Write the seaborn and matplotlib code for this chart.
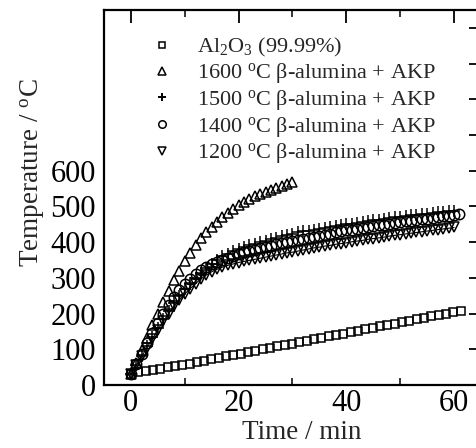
import matplotlib
matplotlib.use("Agg")
import matplotlib.pyplot as plt
import seaborn as sns
import numpy as np
import pandas as pd
from matplotlib.ticker import MultipleLocator, FixedLocator, FuncFormatter
from matplotlib.lines import Line2D

# ---------------- data ----------------
t_al2o3 = [0, 1.36, 2.72, 4.08, 5.44, 6.8, 8.16, 9.52, 10.88, 12.24, 13.6, 14.96, 16.32,
           17.68, 19.04, 20.4, 21.76, 23.12, 24.48, 25.84, 27.2, 28.56, 29.92, 31.28,
           32.64, 34.0, 35.36, 36.72, 38.08, 39.44, 40.8, 42.16, 43.52, 44.88, 46.24,
           47.6, 48.96, 50.32, 51.68, 53.04, 54.4, 55.76, 57.12, 58.48, 59.84, 61.2]
T_al2o3 = [30, 36, 40, 43, 46, 50, 53, 57, 60, 64, 68, 72, 76, 80, 84, 88, 92, 96, 100,
           104, 108, 112, 116, 120, 124, 128, 132, 136, 140, 144, 148, 152, 156, 160,
           164, 168, 172, 176, 180, 184, 188, 192, 196, 200, 204, 208]

t_1600 = list(range(0, 31))
T_1600 = [30, 62, 97, 132, 167, 200, 232, 263, 293, 320, 346, 370, 392, 411, 428, 443,
          457, 470, 482, 493, 503, 512, 520, 528, 535, 541, 547, 552, 558, 563, 568]

t_1500 = list(range(0, 61))
T_1500 = [30, 55, 82, 108, 134, 160, 185, 208, 230, 250, 268, 285, 300, 314, 327, 339,
          350, 360, 368, 375, 382, 387, 392, 396, 400, 404, 408, 412, 416, 420, 424,
          427, 430, 432, 435, 437, 440, 442, 445, 447, 450, 452, 454, 457, 459, 461,
          463, 465, 467, 469, 471, 473, 475, 477, 478, 480, 482, 484, 485, 487, 488]

t_1400 = list(range(0, 62))
T_1400 = [30, 60, 88, 117, 145, 173, 200, 225, 247, 266, 283, 298, 310, 321, 330, 338,
          345, 351, 357, 362, 367, 371, 375, 379, 383, 387, 390, 394, 397, 400, 403,
          406, 409, 412, 415, 418, 421, 424, 427, 430, 433, 435, 438, 440, 443, 445,
          447, 449, 452, 454, 456, 458, 460, 462, 464, 466, 468, 470, 472, 474, 476, 478]

t_1200 = list(range(0, 61))
T_1200 = [30, 55, 80, 105, 130, 155, 178, 200, 220, 238, 255, 270, 284, 297, 308, 317,
          324, 330, 335, 339, 343, 346, 349, 352, 355, 358, 361, 364, 367, 370, 372,
          375, 378, 381, 384, 386, 389, 391, 394, 396, 398, 401, 403, 405, 408, 410,
          412, 414, 417, 419, 421, 423, 425, 427, 429, 431, 433, 435, 437, 439, 441]

labels = [r"Al$_2$O$_3$ (99.99%)",
          r"1600 $^{\mathrm{o}}$C β-alumina + AKP",
          r"1500 $^{\mathrm{o}}$C β-alumina + AKP",
          r"1400 $^{\mathrm{o}}$C β-alumina + AKP",
          r"1200 $^{\mathrm{o}}$C β-alumina + AKP"]

x_ticks = [0, 20, 40, 60]
y_ticks_labeled = [0, 100, 200, 300, 400, 500, 600]

# ---------------- style ----------------
sns.set_theme(style="white")
plt.rcParams["font.family"] = "serif"
plt.rcParams["font.serif"] = ["Liberation Serif", "DejaVu Serif"]
plt.rcParams["mathtext.fontset"] = "custom"
plt.rcParams["mathtext.rm"] = "Liberation Serif"
plt.rcParams["mathtext.it"] = "Liberation Serif:italic"

fig = plt.figure(figsize=(4.77, 4.48), dpi=100)
ax = fig.add_axes([104 / 477, 63 / 448, 377 / 477, 375 / 448])

series = [
    (t_al2o3, T_al2o3, "s", 5.8),
    (t_1600, T_1600, "^", 7.5),
    (t_1500, T_1500, "+", 8.5),
    (t_1400, T_1400, "o", 7.5),
    (t_1200, T_1200, "v", 7.5),
]

handles = []
for (tx, ty, mk, ms), lab in zip(series, labels):
    df = pd.DataFrame({"t": tx, "T": ty})
    sns.lineplot(data=df, x="t", y="T", ax=ax, color="black",
                 linestyle="-" if mk == "v" else "none", linewidth=0.8,
                 marker=mk, markersize=ms, markerfacecolor="none",
                 markeredgecolor="black", markeredgewidth=1.1, legend=False)
    handles.append(Line2D([], [], linestyle="none", marker=mk, color="black",
                          markersize=ms * 0.72, markerfacecolor="none",
                          markeredgewidth=1.4 if mk == "+" else 1.1))

ax.set_xlim(-5, 65)
ax.set_ylim(0, 1050)
ax.xaxis.set_major_locator(FixedLocator(x_ticks))
ax.xaxis.set_minor_locator(FixedLocator([10, 30, 50]))
ax.yaxis.set_major_locator(MultipleLocator(100))
ax.yaxis.set_major_formatter(FuncFormatter(
    lambda v, p: f"{int(round(v))}" if int(round(v)) in y_ticks_labeled else ""))

ax.tick_params(axis="both", which="major", direction="in", length=9, width=1.3,
               labelsize=22, top=True, right=True, colors="black")
ax.tick_params(axis="y", which="major", pad=6)
ax.tick_params(axis="x", which="major", pad=3)
ax.tick_params(axis="x", which="minor", direction="in", length=5, width=1.3,
               top=True, bottom=True)
for s in ax.spines.values():
    s.set_linewidth(1.6)
    s.set_color("black")

ax.set_xlabel("Time / min", fontsize=19.5)
ax.set_ylabel(r"Temperature / $^{\mathrm{o}}$C", fontsize=19.5)
ax.xaxis.set_label_coords(0.525, -0.093)
ax.yaxis.set_label_coords(-0.152, 0.565)

leg = ax.legend(handles, labels, loc="upper left", bbox_to_anchor=(0.1, 0.955),
                frameon=False, fontsize=16, handlelength=1.0, handletextpad=1.1,
                labelspacing=0.12, borderaxespad=0)

fig.savefig("out.png", dpi=100)
